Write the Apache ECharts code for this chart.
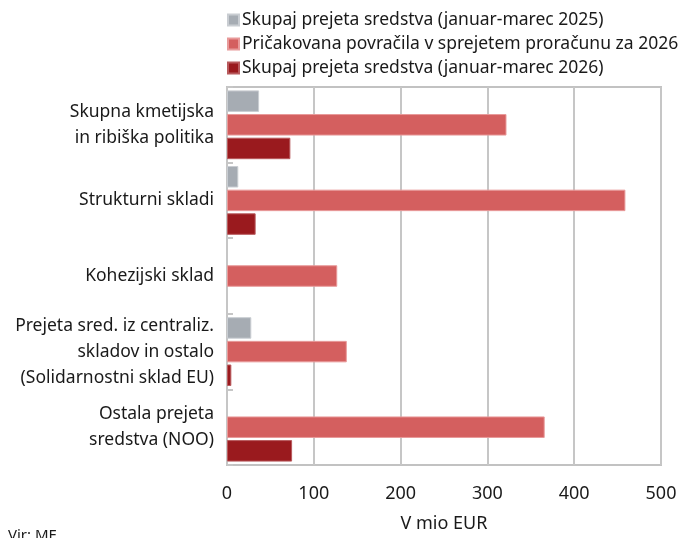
<!DOCTYPE html>
<html>
<head>
<meta charset="utf-8">
<script src="https://cdn.jsdelivr.net/npm/echarts@6/dist/echarts.min.js"></script>
<style>
  html, body { margin: 0; padding: 0; background: #fff; }
  #chart { width: 685px; height: 538px; }
</style>
</head>
<body>
<div id="chart"></div>
<script>
// kategorije (od zgoraj navzdol)
const categories = [
  "Skupna kmetijska\nin ribiška politika",
  "Strukturni skladi",
  "Kohezijski sklad",
  "Prejeta sred. iz centraliz.\nskladov in ostalo\n(Solidarnostni sklad EU)",
  "Ostala prejeta\nsredstva (NOO)"
];
const seriesNames = [
  "Skupaj prejeta sredstva (januar-marec 2025)",
  "Pričakovana povračila v sprejetem proračunu za 2026",
  "Skupaj prejeta sredstva (januar-marec 2026)"
];
// v mio EUR
const prejeta2025 = [37, 13, 0, 28, 0];
const pricakovana2026 = [322, 459, 127, 138, 366];
const prejeta2026 = [73, 33, 0, 5, 75];
const xTicks = [0, 100, 200, 300, 400, 500];

const colors = ["#a6acb3", "#d45f5f", "#9a1a1e"];
const borders = ["#c9cdd2", "#e89a9a", "#b85a5d"];
const font = "Noto Sans";

const chart = echarts.init(document.getElementById("chart"));

// ničelnih vrednosti ne rišemo (sicer ostane tanek rob)
const makeSeries = (name, data, i) => ({
  name: name,
  type: "bar",
  data: data.map(v => (v === 0 ? "-" : v)),
  barWidth: 21.5,
  barGap: "10%",
  itemStyle: {
    color: colors[i],
    borderColor: borders[i],
    borderWidth: 1
  },
  emphasis: { disabled: true }
});

const option = {
  backgroundColor: "#fff",
  animation: false,
  textStyle: { fontFamily: font },
  legend: {
    orient: "vertical",
    left: 222,
    top: 6,
    itemWidth: 11,
    itemHeight: 11,
    itemGap: 6,
    icon: "rect",
    textStyle: { fontSize: 17.5, color: "#1a1a1a", fontFamily: font, padding: [0, 0, 0, -2] },
    data: seriesNames
  },
  grid: {
    left: 227,
    right: 24,
    top: 87,
    bottom: 69,
    show: true,
    borderColor: "#c2c2c2",
    borderWidth: 2,
    containLabel: false
  },
  xAxis: {
    type: "value",
    min: xTicks[0],
    max: xTicks[xTicks.length - 1],
    interval: 100,
    name: "V mio EUR",
    nameLocation: "middle",
    nameGap: 50,
    nameTextStyle: { fontSize: 18, color: "#1a1a1a", fontFamily: font },
    axisLine: { show: false },
    axisTick: { show: false },
    axisLabel: { fontSize: 18, color: "#1a1a1a", margin: 20, fontFamily: font },
    splitLine: { show: true, lineStyle: { color: "#c6c6c6", width: 2 } }
  },
  yAxis: {
    type: "category",
    data: categories,
    inverse: true,
    axisLine: { show: false },
    axisTick: {
      show: true,
      inside: true,
      length: 6,
      lineStyle: { color: "#c6c6c6", width: 2 }
    },
    axisLabel: {
      fontSize: 17.5,
      lineHeight: 26,
      color: "#1a1a1a",
      margin: 13,
      align: "right",
      fontFamily: font
    },
    splitLine: { show: false }
  },
  graphic: [
    {
      type: "text",
      left: 8,
      top: 528,
      style: { text: "Vir: MF", fontSize: 15, fill: "#1a1a1a", fontFamily: font }
    }
  ],
  series: [
    makeSeries(seriesNames[0], prejeta2025, 0),
    makeSeries(seriesNames[1], pricakovana2026, 1),
    makeSeries(seriesNames[2], prejeta2026, 2)
  ]
};

chart.setOption(option);
</script>
</body>
</html>
